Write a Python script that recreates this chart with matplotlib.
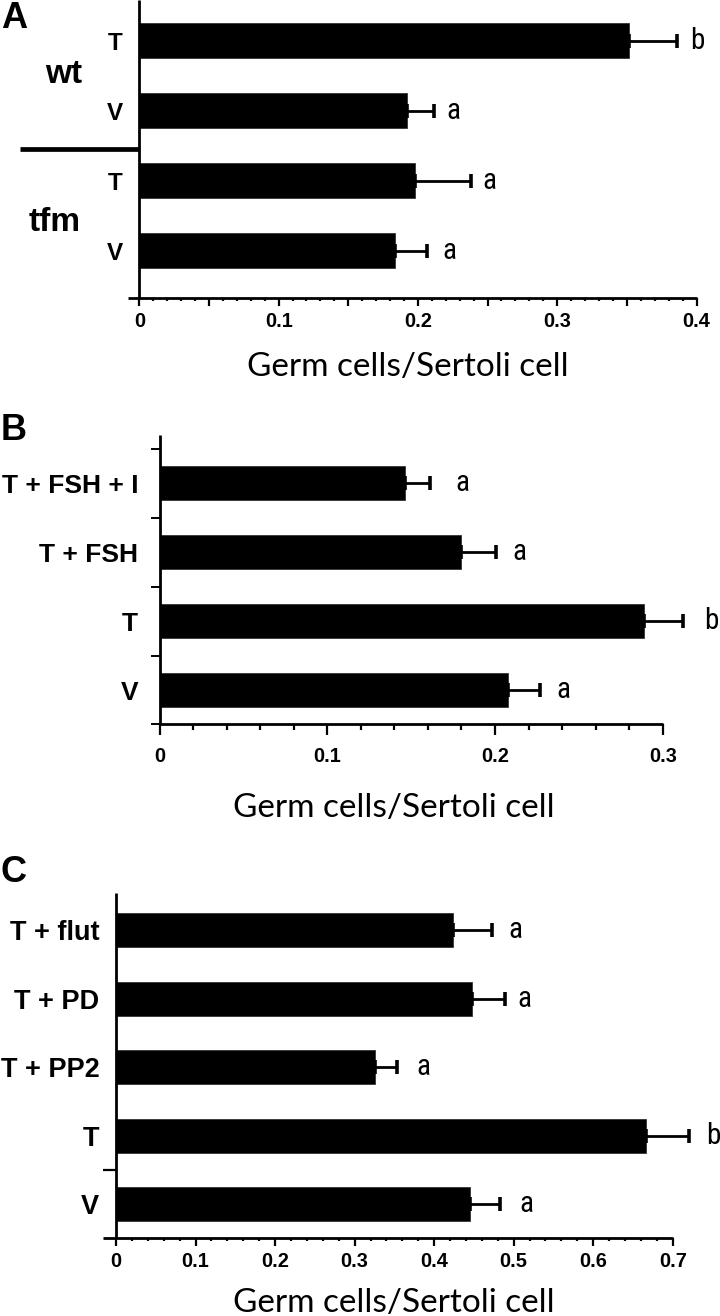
import matplotlib
matplotlib.use("Agg")
import matplotlib.pyplot as plt
from matplotlib import font_manager as fm
from matplotlib.ticker import FixedLocator, MultipleLocator, FixedFormatter
import matplotlib.transforms as mtransforms

# ---------------- data ----------------
a_categories = ["V", "T", "V", "T"]          # bottom -> top
a_groups = ["tfm", "wt"]
a_values = [0.1835, 0.1977, 0.1920, 0.3516]
a_errors = [0.0230, 0.0405, 0.0195, 0.0345]
a_letters = ["a", "a", "a", "b"]
a_xticks = [0, 0.05, 0.1, 0.15, 0.2, 0.25, 0.3, 0.35, 0.4]
a_xticklabels = ["0", "", "0.1", "", "0.2", "", "0.3", "", "0.4"]

b_categories = ["V", "T", "T + FSH", "T + FSH + I"]
b_values = [0.2080, 0.2890, 0.1795, 0.1466]
b_errors = [0.0190, 0.0233, 0.0212, 0.0144]
b_letters = ["a", "b", "a", "a"]
b_xticks = [0, 0.1, 0.2, 0.3]
b_xticklabels = ["0", "0.1", "0.2", "0.3"]

c_categories = ["V", "T", "T + PP2", "T + PD", "T + flut"]
c_values = [0.4450, 0.6660, 0.3260, 0.4480, 0.4233]
c_errors = [0.0380, 0.0540, 0.0268, 0.0407, 0.0497]
c_letters = ["a", "b", "a", "a", "a"]
c_xticks = [0, 0.1, 0.2, 0.3, 0.4, 0.5, 0.6, 0.7]
c_xticklabels = ["0", "0.1", "0.2", "0.3", "0.4", "0.5", "0.6", "0.7"]

xlabel_text = "Germ cells/Sertoli cell"

# ---------------- fonts ----------------
names = {f.name for f in fm.fontManager.ttflist}


def pick(cands, default):
    for c in cands:
        if c in names:
            return c
    return default


BOLD = pick(["Liberation Sans", "Arimo"], "DejaVu Sans")
COND = pick(["Roboto Condensed", "Liberation Sans Narrow", "Archivo Narrow", "PT Sans Narrow",
             "Fira Sans Condensed", "IBM Plex Sans Condensed", "Barlow Semi Condensed",
             "Sofia Sans Semi Condensed"], BOLD)
LABEL = pick(["Lato", "Open Sans"], "DejaVu Sans")

plt.rcParams["font.family"] = [BOLD, "DejaVu Sans"]
plt.rcParams["font.weight"] = "bold"

W, H = 720, 1316
fig = plt.figure(figsize=(W / 100, H / 100), dpi=100)


def px_axes(left, top, right, bottom):
    return fig.add_axes([left / W, 1 - bottom / H, (right - left) / W, (bottom - top) / H])


def draw_bars(ax, cats, vals, errs, letters, gaps_px, letter_size):
    pos = list(range(len(cats)))
    ax.barh(pos, vals, height=0.5, color="black", edgecolor="#333333", linewidth=0.6, zorder=2)
    eb = ax.errorbar(vals, pos, xerr=[[0] * len(vals), errs], fmt="none", ecolor="black",
                     elinewidth=2.0, capsize=4.8, capthick=2.6, zorder=3)
    for art in eb.lines[1] + eb.lines[2]:
        art.set_clip_on(False)
    ax.set_yticks(pos)
    ax.yaxis.set_major_formatter(FixedFormatter(cats))
    for p, v, e, l, g in zip(pos, vals, errs, letters, gaps_px):
        ax.annotate(l, xy=(v + e, p), xytext=(g * 0.72, 0), textcoords="offset points",
                    ha="center", va="center", fontsize=letter_size, fontfamily=COND,
                    fontweight="normal", annotation_clip=False)


def style_axes(ax, xlim, ylim, xt, xtl, minor_step, major_len, minor_len, label_pad,
               ylabel_pad, ylabel_size):
    ax.set_xlim(*xlim)
    ax.set_ylim(*ylim)
    for s in ("top", "right"):
        ax.spines[s].set_visible(False)
    ax.spines["left"].set_position(("data", 0))
    for s in ("left", "bottom"):
        ax.spines[s].set_linewidth(2.0)
        ax.spines[s].set_capstyle("butt")
    ax.xaxis.set_major_locator(FixedLocator(xt))
    ax.xaxis.set_major_formatter(FixedFormatter(xtl))
    ax.xaxis.set_minor_locator(MultipleLocator(minor_step))
    ax.tick_params(axis="x", which="major", direction="out", length=major_len, width=1.6,
                   pad=label_pad, labelsize=14.4)
    ax.tick_params(axis="x", which="minor", direction="out", length=minor_len, width=1.6)
    ax.tick_params(axis="y", which="major", length=0, pad=ylabel_pad, labelsize=ylabel_size)


def add_xlabel(ax, xfrac, yfrac):
    ax.set_xlabel(xlabel_text, fontfamily=LABEL, fontweight="normal", fontsize=24)
    ax.xaxis.set_label_coords(xfrac, yfrac)
    ax.xaxis.label.set_va("center")


# ---------------- Panel A ----------------
axA = px_axes(127.5, 0, 696.5, 298.3)
draw_bars(axA, a_categories, a_values, a_errors, a_letters, [22, 18.4, 19, 20], 21)
style_axes(axA, (-0.0085, 0.4), (-0.676, 3.58), a_xticks, a_xticklabels, 0.01,
           6, 2.5, 4, 12, 17.5)
trA = mtransforms.blended_transform_factory(axA.transAxes, axA.transData)
x_sep0 = (20 - 127.5) / (696.5 - 127.5)
x_sep1 = (139.3 - 127.5) / (696.5 - 127.5)
axA.plot([x_sep0, x_sep1], [1.46, 1.46], transform=trA, color="black", lw=3.4,
         solid_capstyle="butt", clip_on=False)
axA.text((64 - 127.5) / 569, 2.51, a_groups[1], transform=trA, ha="center", va="center",
         fontweight="bold", fontsize=24)
axA.text((55 - 127.5) / 569, 0.41, a_groups[0], transform=trA, ha="center", va="center",
         fontweight="bold", fontsize=24)
add_xlabel(axA, (408 - 127.5) / 569, -(367 - 298.3) / 298.3)

# ---------------- Panel B ----------------
axB = px_axes(159.6, 435, 662.7, 724.5)
draw_bars(axB, b_categories, b_values, b_errors, b_letters, [23, 28, 23, 33], 21)
style_axes(axB, (0, 0.3), (-0.5, 3.7), b_xticks, b_xticklabels, 0.02,
           8, 4.5, 8.5, 15.5, 19)
axB.yaxis.set_minor_locator(FixedLocator([-0.5, 0.5, 1.5, 2.5, 3.5]))
axB.tick_params(axis="y", which="minor", direction="out", length=6.5, width=1.4)
add_xlabel(axB, (394 - 159.6) / (662.7 - 159.6), -(807.7 - 724.5) / 289.5)

# ---------------- Panel C ----------------
axC = px_axes(102.7, 893.3, 672.7, 1238.3)
draw_bars(axC, c_categories, c_values, c_errors, c_letters, [26, 25, 27, 20, 23], 21)
style_axes(axC, (-0.0168, 0.7), (-0.5, 4.54), c_xticks, c_xticklabels, 0.02,
           6, 2.5, 4, 12, 19.5)
axC.yaxis.set_minor_locator(FixedLocator([0.5]))
axC.tick_params(axis="y", which="minor", direction="out", length=9.4, width=1.6)
add_xlabel(axC, (394 - 102.7) / 570, -(1303 - 1238.3) / 345)

# panel letters
for letter, (x, y) in zip(["A", "B", "C"], [(14, 18), (14, 430), (14, 872)]):
    fig.text(x / W, 1 - y / H, letter, ha="center", va="center",
             fontweight="bold", fontsize=26)

fig.savefig("out.png", dpi=100)
